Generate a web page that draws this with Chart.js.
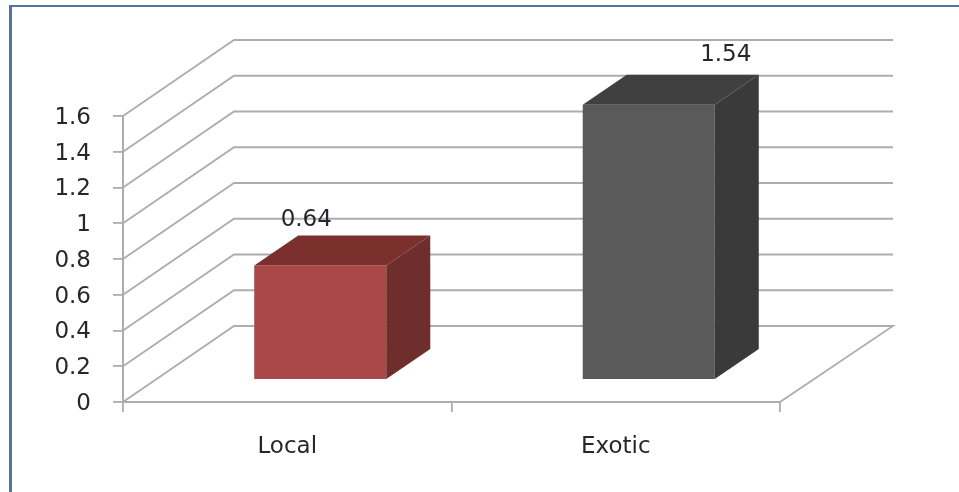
<!DOCTYPE html>
<html>
<head>
<meta charset="utf-8">
<title>Local vs Exotic</title>
<script src="https://cdn.jsdelivr.net/npm/chart.js@4"></script>
<style>
    html, body { margin: 0; padding: 0; background: #fff; overflow: hidden; }
    #frame {
        position: absolute; left: 9px; top: 5px; right: 0; bottom: 0;
        border-left: 3px solid #4f74a3; border-top: 2px solid #4f74a3;
    }
    #chart { position: absolute; left: 0; top: 0; filter: blur(0.6px); }
</style>
</head>
<body>
<div id="frame"></div>
<canvas id="chart" width="959" height="492"></canvas>
<script>
// data
const categories = ['Local', 'Exotic'];
const values = [0.64, 1.54];
const yTickLabels = ['0', '0.2', '0.4', '0.6', '0.8', '1', '1.2', '1.4', '1.6'];

const frontColors = ['#a94846', '#5a5a5a'];
const topColors = ['#7b302e', '#404040'];
const sideColors = ['#6e2e2c', '#3a3a3a'];

const gridColor = '#aeacae';
const textColor = '#26272d';
const fontFamily = "'DejaVu Sans', sans-serif";

// fake 3D: wall depth, how far bars sit from the front, bar depth
const wall = { dx: 111, dy: -76, floorRight: 113 };
const barShift = { dx: 33, dy: -22 };
const barDepth = { dx: 44, dy: -30 };
const labelOffsets = [{ dx: 19, dy: -68 }, { dx: 110, dy: -72 }];

const walls3d = {
    id: 'walls3d',
    beforeDatasetsDraw(chart) {
        const { ctx, scales: { y }, chartArea: area } = chart;
        ctx.save();
        ctx.strokeStyle = gridColor;
        ctx.lineWidth = 1.8;
        y.ticks.forEach((t, i) => {
            const py = y.getPixelForTick(i);
            ctx.beginPath();
            ctx.moveTo(area.left, py);
            ctx.lineTo(area.left + wall.dx, py + wall.dy);
            ctx.lineTo(area.right + wall.floorRight, py + wall.dy);
            if (i === 0) ctx.lineTo(area.right, py);
            ctx.stroke();
        });
        ctx.restore();
    },
    beforeDatasetDraw(chart) {
        chart.ctx.save();
        chart.ctx.translate(barShift.dx, barShift.dy);
    },
    afterDatasetDraw(chart) {
        chart.ctx.restore();
    },
    afterDatasetsDraw(chart) {
        const ctx = chart.ctx;
        chart.getDatasetMeta(0).data.forEach((bar, i) => {
            const l = bar.x - bar.width / 2 + barShift.dx;
            const r = bar.x + bar.width / 2 + barShift.dx;
            const t = bar.y + barShift.dy;
            const b = bar.base + barShift.dy;

            ctx.fillStyle = topColors[i];
            ctx.beginPath();
            ctx.moveTo(l, t);
            ctx.lineTo(l + barDepth.dx, t + barDepth.dy);
            ctx.lineTo(r + barDepth.dx, t + barDepth.dy);
            ctx.lineTo(r, t);
            ctx.closePath();
            ctx.fill();

            ctx.fillStyle = sideColors[i];
            ctx.beginPath();
            ctx.moveTo(r, t);
            ctx.lineTo(r + barDepth.dx, t + barDepth.dy);
            ctx.lineTo(r + barDepth.dx, b + barDepth.dy);
            ctx.lineTo(r, b);
            ctx.closePath();
            ctx.fill();

            ctx.fillStyle = textColor;
            ctx.font = '23px ' + fontFamily;
            ctx.textAlign = 'center';
            ctx.textBaseline = 'middle';
            ctx.fillText(String(values[i]), bar.x + labelOffsets[i].dx, bar.y + labelOffsets[i].dy);
        });
    }
};

new Chart(document.getElementById('chart'), {
    type: 'bar',
    data: {
        labels: categories,
        datasets: [{
            data: values,
            backgroundColor: frontColors,
            barPercentage: 0.402,
            categoryPercentage: 1
        }]
    },
    options: {
        responsive: false,
        animation: false,
        layout: { padding: { left: 0, top: 116, right: 179, bottom: 0 } },
        plugins: { legend: { display: false }, tooltip: { enabled: false } },
        scales: {
            x: {
                afterFit(scale) { scale.height = 90; },
                grid: { drawOnChartArea: false, color: gridColor, lineWidth: 1.8, tickLength: 10, offset: true },
                border: { color: gridColor, width: 2 },
                ticks: { color: textColor, font: { family: fontFamily, size: 23 }, padding: 21, maxRotation: 0 }
            },
            y: {
                min: 0,
                max: 1.6,
                afterFit(scale) { scale.width = 123; },
                grid: { drawOnChartArea: false, color: gridColor, lineWidth: 1.8, tickLength: 10 },
                border: { color: gridColor, width: 2 },
                ticks: {
                    stepSize: 0.2,
                    autoSkip: false,
                    color: textColor,
                    font: { family: fontFamily, size: 23 },
                    padding: 22,
                    labelOffset: 2,
                    callback: (v, i) => yTickLabels[i]
                }
            }
        }
    },
    plugins: [walls3d]
});
</script>
</body>
</html>
